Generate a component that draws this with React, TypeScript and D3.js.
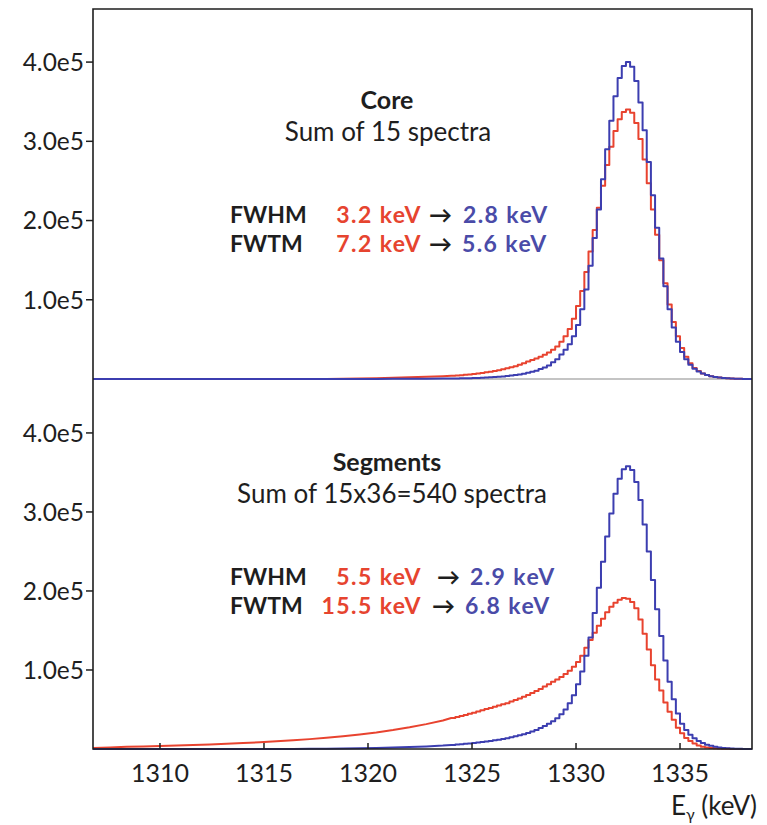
import React from "react";
import * as d3 from "d3";

// ---------- data ----------
const xTicks = [1310, 1315, 1320, 1325, 1330, 1335];
const yTicks = [100000, 200000, 300000, 400000];
const yTickLabels = ["1.0e5", "2.0e5", "3.0e5", "4.0e5"];
const xDomain = [1306.78, 1338.46];
const yMax = 467000;

// binning: coarse bins in the far tail, fine bins around the peak
const coarseStart = 1306.4;
const coarseWidth = 0.8;
const fineStart = 1324.0;
const fineWidth = 0.2;

// counts in thousands
const coreBeforeCoarse = [0, 0, 0, 0, 0, 0, 0, 0, 0, 0, 0, 0, 0, 0, 0, 0.3, 0.6, 1.0, 1.6, 2.2, 2.8, 3.5];
const coreBeforeFine = [
  4.0, 4.4, 4.8, 5.3, 5.8, 6.4, 7.0, 7.7, 8.5, 9.3,
  10.2, 11.2, 12.3, 13.5, 14.7, 16, 18, 20, 22, 24,
  26, 28, 30.5, 33.5, 37, 41, 47, 54, 63, 76,
  92, 111, 135, 161, 188, 216, 244, 270, 293, 313,
  328, 337, 340, 336, 323, 303, 277, 247, 214, 182,
  150, 121, 94, 72, 54, 39, 28, 20, 14, 10,
  7, 5, 3.6, 2.6, 1.8, 1.2, 0.8, 0.5, 0.3, 0.2,
  0.1, 0.1,
];
const coreAfterCoarse = [0, 0, 0, 0, 0, 0, 0, 0, 0, 0, 0, 0, 0, 0, 0, 0, 0.1, 0.15, 0.2, 0.3, 0.4, 0.5];
const coreAfterFine = [
  0.6, 0.7, 0.8, 0.9, 1.0, 1.2, 1.4, 1.6, 1.8, 2.1,
  2.4, 2.8, 3.2, 3.7, 4.3, 5.0, 5.8, 6.7, 7.8, 9,
  10.5, 12.5, 14.5, 17, 21, 25, 31, 37, 44, 54,
  68, 88, 113, 143, 178, 214, 252, 290, 326, 357,
  380, 395, 400, 394, 376, 349, 314, 274, 232, 191,
  152, 117, 88, 65, 47, 34, 25, 18, 13, 9.5,
  7, 5, 3.6, 2.6, 1.8, 1.2, 0.8, 0.5, 0.3, 0.2,
  0.1, 0.1,
];
const segBeforeCoarse = [1.2, 2.0, 2.7, 3.3, 3.9, 4.5, 5.1, 5.8, 6.6, 7.5, 8.5, 9.7, 11.0, 12.5, 14.2, 16.2, 18.5, 21, 24, 27.5, 31.5, 36];
const segBeforeFine = [
  39.3, 40.5, 41.7, 43, 44.5, 46, 47.5, 49, 50.5, 52,
  53.5, 55, 56.5, 58, 60, 62, 64, 66, 68.5, 71,
  73.5, 76, 79, 82, 85, 88, 91, 95, 99, 104,
  110, 118, 128, 138, 147, 156, 165, 173, 180, 185,
  189, 191, 190, 186, 178, 164, 146, 126, 106, 88,
  74, 59, 47, 37, 27, 20, 14, 10, 7, 4.5,
  3, 2, 1.3, 0.8, 0.5, 0.3, 0.2, 0.1, 0, 0,
  0, 0,
];
const segAfterCoarse = [0, 0, 0, 0, 0, 0, 0, 0, 0, 0, 0, 0, 0.1, 0.2, 0.3, 0.5, 0.8, 1.2, 1.8, 2.5, 3.3, 4.4];
const segAfterFine = [
  5.2, 5.6, 6.0, 6.5, 7.0, 7.6, 8.2, 8.8, 9.5, 10.2,
  11.0, 11.8, 12.7, 13.7, 14.8, 16, 17.3, 18.7, 20.2, 22,
  24, 26.5, 29, 32, 35, 39, 44, 50, 58, 68,
  82, 98, 118, 141, 172, 204, 237, 269, 298, 323,
  342, 354, 358, 353, 338, 315, 284, 250, 214, 177,
  143, 112, 85, 63, 45, 32, 24, 18, 13.5, 10,
  7.5, 5.5, 4, 2.8, 1.9, 1.2, 0.8, 0.5, 0.3, 0.2,
  0.1, 0.1,
];

const panelTitles = ["Core", "Segments"];
const panelSubtitles = ["Sum of 15 spectra", "Sum of 15x36=540 spectra"];
const fwhmBefore = ["3.2 keV", "5.5 keV"];
const fwhmAfter = ["2.8 keV", "2.9 keV"];
const fwtmBefore = ["7.2 keV", "15.5 keV"];
const fwtmAfter = ["5.6 keV", "6.8 keV"];

// ---------- style ----------
const RED = "#e8432f";
const BLUE = "#3c3eb0";
const RED_TXT = "#e6442f";
const BLUE_TXT = "#4a4ba8";
const INK = "#1e1e1e";
const FONT = "Lato, 'Open Sans', sans-serif";

type Pt = [number, number];

function histPoints(coarse: number[], fine: number[]): Pt[] {
  const pts: Pt[] = [[coarseStart, coarse[0]]];
  coarse.forEach((v, i) => pts.push([coarseStart + (i + 0.5) * coarseWidth, v]));
  fine.forEach((v, i) => {
    const lo = fineStart + i * fineWidth;
    pts.push([lo, v], [lo + fineWidth, v]);
  });
  pts.push([xDomain[1] + 1, fine[fine.length - 1]]);
  return pts;
}

const L = 93, R = 752;
const panels = [
  { top: 9, bottom: 379, dy: 0, red: histPoints(coreBeforeCoarse, coreBeforeFine), blue: histPoints(coreAfterCoarse, coreAfterFine) },
  { top: 380, bottom: 749, dy: 362, red: histPoints(segBeforeCoarse, segBeforeFine), blue: histPoints(segAfterCoarse, segAfterFine) },
];

export default function App() {
  const x = d3.scaleLinear().domain(xDomain).range([L, R]);
  return (
    <svg width={767} height={825} style={{ position: "absolute", left: 0, top: 0, background: "#fff" }} fontFamily={FONT}>
      <rect width={767} height={825} fill="#fff" />
      {panels.map((p, pi) => {
        const y = d3.scaleLinear().domain([0, yMax]).range([p.bottom, p.top]);
        const line = d3
          .line<Pt>()
          .x((d) => x(d[0]))
          .y((d) => y(d[1] * 1000));
        const clipId = `clip${pi}`;
        const dy = p.dy;
        return (
          <g key={pi}>
            <defs>
              <clipPath id={clipId}>
                <rect x={L} y={p.top} width={R - L} height={p.bottom - p.top + 2} />
              </clipPath>
            </defs>
            {pi === 0 && <line x1={L} x2={R} y1={y(0)} y2={y(0)} stroke="#c4c4c4" strokeWidth={2} />}
            <g clipPath={`url(#${clipId})`}>
              <path d={line(p.red) || ""} fill="none" stroke={RED} strokeWidth={2} strokeLinejoin="round" />
              <path d={line(p.blue) || ""} fill="none" stroke={BLUE} strokeWidth={2} strokeLinejoin="round" />
            </g>
            {yTicks.map((t, i) => (
              <g key={t}>
                <line x1={L - 7} x2={L} y1={y(t)} y2={y(t)} stroke={INK} strokeWidth={1.5} />
                <text x={L - 9} y={y(t)} dy="0.36em" textAnchor="end" fontSize={24.5} fill={INK}>
                  {yTickLabels[i]}
                </text>
              </g>
            ))}
            <text x={387} y={109 + dy} textAnchor="middle" fontSize={25} fontWeight="bold" fill={INK}>
              {panelTitles[pi]}
            </text>
            <text x={pi === 0 ? 388 : 392} y={141 + dy} textAnchor="middle" fontSize={26} fill={INK}>
              {panelSubtitles[pi]}
            </text>
            <g fontWeight="bold" fontSize={23}>
              <text x={230} y={223 + dy} fill={INK}>FWHM</text>
              <text x={422} y={223 + dy} textAnchor="end" fill={RED_TXT} letterSpacing={1.4}>{fwhmBefore[pi]}</text>
              <text x={pi === 0 ? 429 : 437} y={223 + dy} fill={INK}>→</text>
              <text x={pi === 0 ? 463 : 470} y={223 + dy} fill={BLUE_TXT} letterSpacing={1.4}>{fwhmAfter[pi]}</text>
              <text x={230} y={252 + dy} fill={INK}>FWTM</text>
              <text x={422} y={252 + dy} textAnchor="end" fill={RED_TXT} letterSpacing={1.4}>{fwtmBefore[pi]}</text>
              <text x={pi === 0 ? 429 : 432} y={252 + dy} fill={INK}>→</text>
              <text x={pi === 0 ? 462 : 465} y={252 + dy} fill={BLUE_TXT} letterSpacing={1.4}>{fwtmAfter[pi]}</text>
            </g>
          </g>
        );
      })}
      {/* frame */}
      <path d={`M${L},9H${R}V749H${L}Z`} fill="none" stroke={INK} strokeWidth={1.6} />
      {/* x ticks */}
      {xTicks.map((t) => (
        <g key={t}>
          <line x1={x(t)} x2={x(t)} y1={749} y2={743} stroke={INK} strokeWidth={1.5} />
          <text x={x(t)} y={782} textAnchor="middle" fontSize={25} fill={INK}>
            {t}
          </text>
        </g>
      ))}
      <text x={757} y={815} textAnchor="end" fontSize={26} fill={INK}>
        E<tspan fontSize={16} dy={5}>γ</tspan>
        <tspan dy={-5}> (keV)</tspan>
      </text>
    </svg>
  );
}
